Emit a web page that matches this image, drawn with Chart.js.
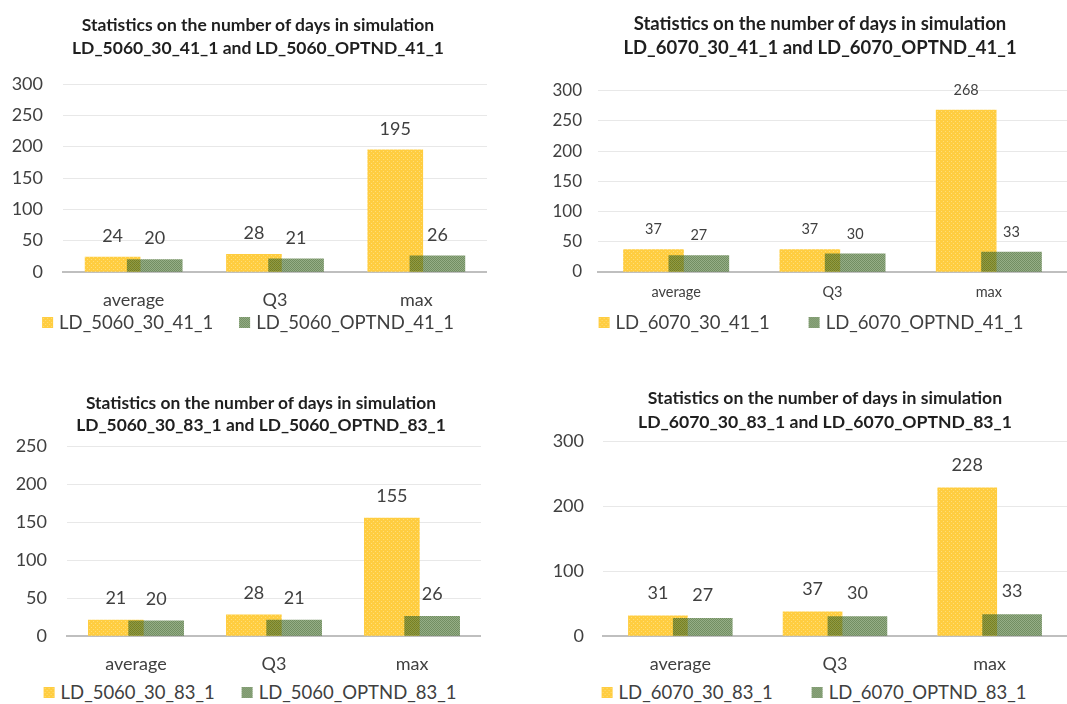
<!DOCTYPE html>
<html><head><meta charset="utf-8">
<script src="https://cdn.jsdelivr.net/npm/chart.js@4.4.0/dist/chart.umd.min.js"></script>
<style>
html,body{margin:0;padding:0;background:#fff;overflow:hidden;width:1067px;height:704px;position:relative;}
canvas.chart{position:absolute;}
.title{position:absolute;transform:translateX(-50%);text-align:center;white-space:nowrap;
  font-family:Lato,'Open Sans','Liberation Sans',sans-serif;font-weight:bold;color:#1f1f1f;}
.legend{position:absolute;display:flex;align-items:center;white-space:nowrap;transform:translate(-50%,-50%);
  font-family:Lato,'Open Sans','Liberation Sans',sans-serif;font-size:18.5px;color:#404040;line-height:22px;}
.legend .item{display:flex;align-items:center;}
.legend canvas{width:11px;height:11px;margin-right:6px;display:block;}
</style></head><body>
<canvas class="chart" id="c1"></canvas>
<canvas class="chart" id="c2"></canvas>
<canvas class="chart" id="c3"></canvas>
<canvas class="chart" id="c4"></canvas>
<script>
// ---------- DATA ----------
const categories = ['average', 'Q3', 'max'];

const titleA = ['Statistics on the number of days in simulation', 'LD_5060_30_41_1 and LD_5060_OPTND_41_1'];
const namesA = ['LD_5060_30_41_1', 'LD_5060_OPTND_41_1'];
const yellowA = [24, 28, 195];
const greenA = [20, 21, 26];
const ticksA = [0, 50, 100, 150, 200, 250, 300];

const titleB = ['Statistics on the number of days in simulation', 'LD_6070_30_41_1 and LD_6070_OPTND_41_1'];
const namesB = ['LD_6070_30_41_1', 'LD_6070_OPTND_41_1'];
const yellowB = [37, 37, 268];
const greenB = [27, 30, 33];
const ticksB = [0, 50, 100, 150, 200, 250, 300];

const titleC = ['Statistics on the number of days in simulation', 'LD_5060_30_83_1 and LD_5060_OPTND_83_1'];
const namesC = ['LD_5060_30_83_1', 'LD_5060_OPTND_83_1'];
const yellowC = [21, 28, 155];
const greenC = [20, 21, 26];
const ticksC = [0, 50, 100, 150, 200, 250];

const titleD = ['Statistics on the number of days in simulation', 'LD_6070_30_83_1 and LD_6070_OPTND_83_1'];
const namesD = ['LD_6070_30_83_1', 'LD_6070_OPTND_83_1'];
const yellowD = [31, 37, 228];
const greenD = [27, 30, 33];
const ticksD = [0, 100, 200, 300];

// ---------- STYLE ----------
const FONT = "Lato, 'Open Sans', 'Liberation Sans', sans-serif";
const TEXT = '#404040';

function yellowTile() {
  const c = document.createElement('canvas'); c.width = 4; c.height = 4;
  const g = c.getContext('2d');
  g.fillStyle = 'rgb(255,205,64)'; g.fillRect(0, 0, 4, 4);
  g.fillStyle = 'rgb(255,222,120)'; g.fillRect(1, 1, 1, 1); g.fillRect(3, 3, 1, 1);
  return c;
}
function greenTile() {
  const c = document.createElement('canvas'); c.width = 2; c.height = 2;
  const g = c.getContext('2d');
  g.fillStyle = 'rgba(54,94,32,0.70)'; g.fillRect(0, 0, 1, 1); g.fillRect(1, 1, 1, 1);
  g.fillStyle = 'rgba(84,124,60,0.62)'; g.fillRect(1, 0, 1, 1); g.fillRect(0, 1, 1, 1);
  return c;
}
function patternOf(tile) {
  return document.createElement('canvas').getContext('2d').createPattern(tile, 'repeat');
}

const valueLabels = {
  id: 'valueLabels',
  afterDatasetsDraw(chart, args, opts) {
    const ctx = chart.ctx;
    ctx.save();
    ctx.font = opts.size + 'px ' + FONT;
    ctx.fillStyle = TEXT;
    ctx.textAlign = 'center';
    ctx.textBaseline = 'middle';
    chart.data.datasets.forEach((ds, di) => {
      chart.getDatasetMeta(di).data.forEach((el, i) => {
        ctx.fillText(String(ds.data[i].y), el.x, el.y - opts.offset);
      });
    });
    ctx.restore();
  }
};

function makeTitle(lines, L) {
  const d = document.createElement('div');
  d.className = 'title';
  d.style.left = L.titleX + 'px';
  d.style.top = (L.titleY - L.titleLH / 2) + 'px';
  d.style.fontSize = L.titleSize + 'px';
  d.style.lineHeight = L.titleLH + 'px';
  lines.forEach((t, i) => {
    if (i) d.appendChild(document.createElement('br'));
    d.appendChild(document.createTextNode(t));
  });
  document.body.appendChild(d);
}

function makeLegend(names, tiles, L) {
  const div = document.createElement('div');
  div.className = 'legend';
  div.style.left = L.legendX + 'px'; div.style.top = L.legendY + 'px';
  names.forEach((n, i) => {
    const it = document.createElement('div'); it.className = 'item';
    if (i) it.style.marginLeft = L.legendGap + 'px';
    const b = document.createElement('canvas'); b.width = 11; b.height = 11;
    const g = b.getContext('2d'); g.fillStyle = g.createPattern(tiles[i], 'repeat'); g.fillRect(0, 0, 11, 11);
    const s = document.createElement('span'); s.textContent = n;
    it.appendChild(b); it.appendChild(s); div.appendChild(it);
  });
  document.body.appendChild(div);
}

function makeChart(id, L) {
  const cv = document.getElementById(id);
  cv.width = L.width; cv.height = L.height;
  cv.style.left = L.left + 'px'; cv.style.top = L.top + 'px';
  cv.style.width = L.width + 'px'; cv.style.height = L.height + 'px';
  const tickVals = L.ticks;
  const yt = yellowTile(), gt = greenTile();
  new Chart(cv, {
    type: 'bar',
    data: {
      datasets: [
        {
          label: L.names[0], order: 1,
          data: categories.map((c, i) => ({ x: i - L.shift, y: L.yellow[i] })),
          backgroundColor: patternOf(yt), borderWidth: 0,
          grouped: false, barThickness: L.barWidth
        },
        {
          label: L.names[1], order: 0,
          data: categories.map((c, i) => ({ x: i + L.shift, y: L.green[i] })),
          backgroundColor: patternOf(gt), borderWidth: 0,
          grouped: false, barThickness: L.barWidth
        }
      ]
    },
    options: {
      responsive: false, animation: false, devicePixelRatio: 1,
      layout: { padding: { left: 0, right: 0, top: L.padTop, bottom: 0 } },
      plugins: {
        tooltip: { enabled: false },
        legend: { display: false },
        title: { display: false },
        valueLabels: { size: L.labelSize, offset: L.labelOffset }
      },
      scales: {
        x: {
          type: 'linear', min: -0.5, max: categories.length - 0.5, offset: false,
          afterBuildTicks: (ax) => { ax.ticks = categories.map((c, i) => ({ value: i })); },
          afterFit: (ax) => { ax.height = L.xAxisHeight; },
          grid: { display: false, drawTicks: false, offset: false },
          border: { display: true, color: '#bfbfbf', width: 2 },
          ticks: {
            color: TEXT, font: { family: FONT, size: L.catSize }, padding: L.xPad,
            maxRotation: 0, autoSkip: false,
            callback: (v) => categories[v]
          }
        },
        y: {
          min: 0, max: tickVals[tickVals.length - 1],
          afterBuildTicks: (ax) => { ax.ticks = tickVals.map(v => ({ value: v })); },
          afterFit: (ax) => { ax.width = L.yAxisWidth; },
          grid: { color: '#e8e8e8', lineWidth: 1, drawTicks: false },
          border: { display: false },
          ticks: { color: TEXT, font: { family: FONT, size: L.tickSize }, padding: L.yPad }
        }
      }
    },
    plugins: [valueLabels]
  });
  makeTitle(L.title, L);
  makeLegend(L.names, [yt, gt], L);
}

makeChart('c1', {
  left: 0, top: 0, width: 487, height: 312, padTop: 84,
  title: titleA, titleSize: 17.5, titleLH: 23, titleX: 258, titleY: 24,
  names: namesA, yellow: yellowA, green: greenA, ticks: ticksA,
  yAxisWidth: 63, yPad: 20, tickSize: 18, catSize: 18, xPad: 17, xAxisHeight: 40,
  labelSize: 18, labelOffset: 21, barWidth: 55, shift: 0.149,
  legendX: 248, legendY: 322, legendGap: 26
});
makeChart('c2', {
  left: 530, top: 0, width: 537, height: 312, padTop: 90.7,
  title: titleB, titleSize: 18.5, titleLH: 24.5, titleX: 820, titleY: 23,
  names: namesB, yellow: yellowB, green: greenB, ticks: ticksB,
  yAxisWidth: 68, yPad: 16, tickSize: 17, catSize: 14.5, xPad: 12, xAxisHeight: 40,
  labelSize: 14.5, labelOffset: 20, barWidth: 60, shift: 0.145,
  legendX: 811, legendY: 322, legendGap: 39
});
makeChart('c3', {
  left: 0, top: 380, width: 481, height: 296, padTop: 66,
  title: titleC, titleSize: 17.4, titleLH: 22, titleX: 261, titleY: 403,
  names: namesC, yellow: yellowC, green: greenC, ticks: ticksC,
  yAxisWidth: 67, yPad: 20, tickSize: 18, catSize: 18, xPad: 17, xAxisHeight: 40,
  labelSize: 18, labelOffset: 22, barWidth: 55, shift: 0.146,
  legendX: 250, legendY: 692, legendGap: 27
});
makeChart('c4', {
  left: 530, top: 380, width: 537, height: 296, padTop: 61,
  title: titleD, titleSize: 17.6, titleLH: 24, titleX: 825, titleY: 398,
  names: namesD, yellow: yellowD, green: greenD, ticks: ticksD,
  yAxisWidth: 73, yPad: 19, tickSize: 18, catSize: 18, xPad: 17, xAxisHeight: 40,
  labelSize: 18, labelOffset: 23, barWidth: 59, shift: 0.145,
  legendX: 814, legendY: 692, legendGap: 39
});
</script>
</body></html>
